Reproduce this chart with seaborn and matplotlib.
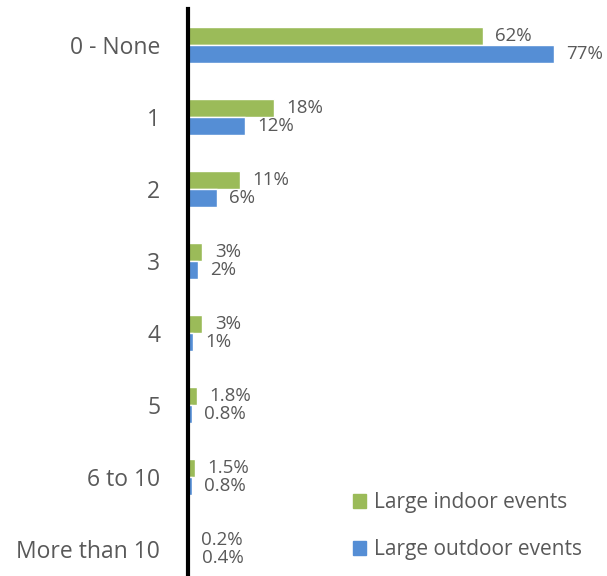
import pandas as pd
import matplotlib.pyplot as plt
import seaborn as sns

categories = ['0 - None', '1', '2', '3', '4', '5', '6 to 10', 'More than 10']
indoor = [62, 18, 11, 3, 3, 1.8, 1.5, 0.2]
outdoor = [77, 12, 6, 2, 1, 0.8, 0.8, 0.4]
indoor_labels = ['62%', '18%', '11%', '3%', '3%', '1.8%', '1.5%', '0.2%']
outdoor_labels = ['77%', '12%', '6%', '2%', '1%', '0.8%', '0.8%', '0.4%']
series = ['Large indoor events', 'Large outdoor events']

df = pd.DataFrame({
    'Category': categories * 2,
    'Value': indoor + outdoor,
    'Series': [series[0]] * len(categories) + [series[1]] * len(categories),
})

sns.set_theme(style="white")
plt.rcParams['font.family'] = ['Open Sans', 'DejaVu Sans']
grey = '#595959'
colors = ['#9BBB59', '#558ED5']

fig = plt.figure(figsize=(6.07, 5.76), dpi=100)
ax = fig.add_axes([188 / 607, 0, 380 / 607, 567 / 576])

sns.barplot(data=df, y='Category', x='Value', hue='Series', order=categories,
            hue_order=series, palette=colors, orient='h', width=0.5,
            saturation=1, ax=ax, legend=False)

# value labels
for cont, labs in zip(ax.containers, [indoor_labels, outdoor_labels]):
    ax.bar_label(cont, labels=labs, padding=9, fontsize=13.5, color=grey)

ax.set_xlim(0, 80)
ax.set_ylim(7.375, -0.5)
ax.set_xlabel('')
ax.set_ylabel('')
ax.set_xticks([])
ax.tick_params(axis='y', length=0, pad=20, labelsize=16.5, labelcolor=grey)

for s in ['top', 'right', 'bottom']:
    ax.spines[s].set_visible(False)
ax.spines['left'].set_color('black')
ax.spines['left'].set_linewidth(3)

# legend
handles = [plt.Rectangle((0, 0), 1, 1, color=c) for c in colors]
fig.legend(handles, series, loc='lower left', bbox_to_anchor=(334 / 607, -0.005),
           frameon=False, fontsize=15, labelcolor=grey, handlelength=0.65,
           handleheight=0.65, handletextpad=0.35, labelspacing=1.25)

fig.savefig('out.png', dpi=100)
